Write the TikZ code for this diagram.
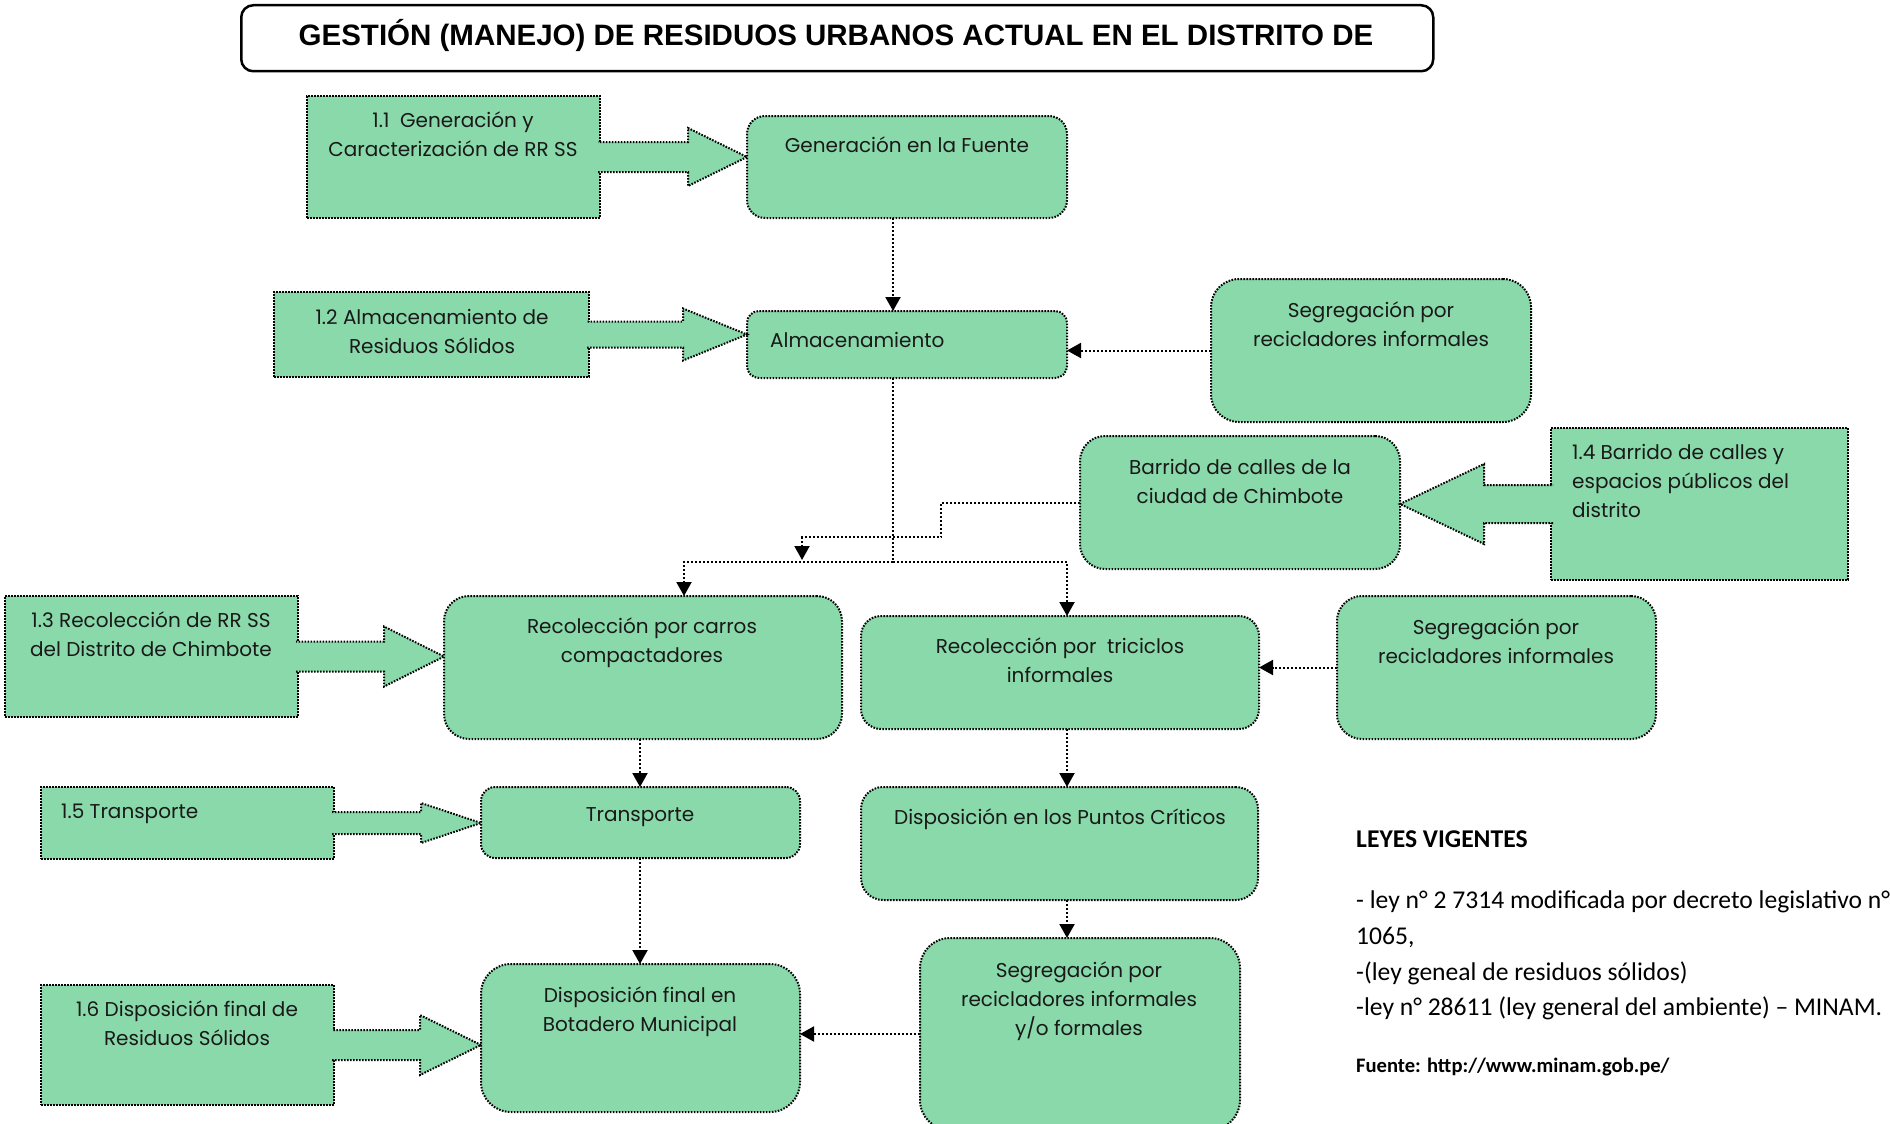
\documentclass[tikz,border=0pt]{standalone}
\usepackage{fontspec}
\setmainfont{Poppins}
\newfontfamily\titlefont{Liberation Sans}
\newfontfamily\legfont{Carlito}
\usetikzlibrary{arrows.meta,calc}
\definecolor{boxgreen}{RGB}{137,217,170}
\definecolor{txtc}{RGB}{25,25,25}
\tikzset{
 sbox/.style={draw=black, fill=boxgreen, line width=2pt, dash pattern=on 1.6pt off 1.4pt, inner sep=0pt, outer sep=0pt, anchor=north west},
 rbox/.style={sbox, rounded corners=#1},
 rbox/.default=20pt,
 txt/.style={font=\fontsize{20}{29}\selectfont, text=txtc, align=center, inner sep=0pt},
 leg/.style={font=\legfont\fontsize{25.6}{29}\selectfont, text=black, inner sep=0pt, anchor=base west},
 link/.style={draw=black, line width=2pt, dash pattern=on 2pt off 2pt},
 arr/.style={link, -{Triangle[length=14pt,width=15pt]}},
 barrow/.style={fill=boxgreen, draw=black, line width=2pt, dash pattern=on 1.6pt off 1.4pt},
}
\newcommand\bx[6]{\node[#1, minimum width={#4-#2}, minimum height={#5-#3}] (#6) at (#2,#3) {};}
% #1 source anchor, #2 target anchor, #3 shaft half, #4 head half, #5 signed head length, #6 overlap shift
\newcommand\blockarr[6]{%
 \coordinate (ba-s) at ($(#1)+(#6,0)$);
 \coordinate (ba-t) at (#1 -| #2);
 \filldraw[barrow] ($(ba-s)+(0,#3)$) -- ($(ba-t)+({-(#5)},#3)$) -- ($(ba-t)+({-(#5)},#4)$) -- (ba-t) -- ($(ba-t)+({-(#5)},{-(#4)})$) -- ($(ba-t)+({-(#5)},{-(#3)})$) -- ($(ba-s)+(0,{-(#3)})$);
}
\begin{document}
\begin{tikzpicture}[x=1pt,y=-1pt]
\useasboundingbox (0,0) rectangle (1890,1124);
% title
\node[draw=black, line width=2.5pt, rounded corners=12pt, fill=white, minimum width=1192, minimum height=66, anchor=north west, inner sep=0pt] (title) at (240,4) {};
\node[font=\titlefont\bfseries\fontsize{29.5}{31}\selectfont, inner sep=0pt] (ttl) at (836,35) {GESTIÓN (MANEJO) DE RESIDUOS URBANOS ACTUAL EN EL DISTRITO DE};
% boxes
\bx{sbox}{307}{96}{600}{218}{b11}
\bx{rbox=18pt}{747}{116}{1067}{218}{gen}
\bx{sbox}{274}{292}{589}{377}{b12}
\bx{rbox=12pt}{747}{311}{1067}{378}{alm}
\bx{rbox=28pt}{1211}{279}{1531}{422}{seg1}
\bx{rbox=25pt}{1080}{436}{1400}{569}{barr}
\bx{sbox}{1551}{428}{1848}{580}{b14}
\bx{sbox}{5}{596}{298}{717}{b13}
\bx{rbox=25pt}{444}{596}{842}{739}{carros}
\bx{rbox=20pt}{861}{616}{1259}{729}{tric}
\bx{rbox=25pt}{1337}{596}{1656}{739}{seg2}
\bx{sbox}{41}{787}{334}{859}{b15}
\bx{rbox=14pt}{481}{787}{800}{858}{transp}
\bx{rbox=22pt}{861}{787}{1258}{900}{punt}
\bx{rbox=30pt}{920}{938}{1240}{1130}{seg3}
\bx{rbox=30pt}{481}{964}{800}{1112}{dfin}
\bx{sbox}{41}{985}{334}{1105}{b16}
% block arrows
\blockarr{b11.east}{gen.west}{15}{29}{59}{-2}
\blockarr{b12.east}{alm.west}{13}{26}{64}{-2}
\blockarr{b13.east}{carros.west}{15}{30}{60}{-2}
\blockarr{b14.west}{barr.east}{19}{40}{-84}{2}
\blockarr{b15.east}{transp.west}{11}{20}{60}{-2}
\blockarr{b16.east}{dfin.west}{15}{30}{61}{-2}
% connectors
\coordinate (cx) at (893,0);
\coordinate (jn) at (893,562);
\coordinate (cl) at (684,0);
\coordinate (cr) at (1067,0);
\coordinate (cm) at (640,0);
\coordinate (bk) at (941,537);
\coordinate (bj) at (802,560);
\draw[arr] (gen.south -| cx) -- (alm.north -| cx);
\draw[link] (alm.south -| cx) -- (jn);
\draw[arr] (jn) -| (carros.north -| cl);
\draw[arr] (jn) -| (tric.north -| cr);
\draw[arr] (barr.west) -| (bk) -| (bj);
\draw[arr] (seg1.west) -- (seg1.west -| alm.east);
\draw[arr] (seg2.west) -- (seg2.west -| tric.east);
\draw[arr] (carros.south -| cm) -- (transp.north -| cm);
\draw[arr] (transp.south -| cm) -- (dfin.north -| cm);
\draw[arr] (tric.south -| cr) -- (punt.north -| cr);
\draw[arr] (punt.south -| cr) -- (seg3.north -| cr);
\draw[arr] (seg3.west) -- (seg3.west -| dfin.east);
% texts
\node[txt] (t11) at (453,134) {1.1\ \ Generación y\\Caracterización de RR SS};
\node[txt] (tgen) at (907,145) {Generación en la Fuente};
\node[txt] (t12) at (432,331) {1.2 Almacenamiento de\\Residuos Sólidos};
\node[txt, anchor=west] (talm) at (770,340) {Almacenamiento};
\node[txt] (tseg1) at (1371,324) {Segregación por\\recicladores informales};
\node[txt] (tbarr) at (1240,481) {Barrido de calles de la\\ciudad de Chimbote};
\node[txt, align=left, anchor=west] (t14) at (1572,481) {1.4 Barrido de calles y\\espacios públicos del\\distrito};
\node[txt] (t13) at (151,634) {1.3 Recolección de RR SS\\del Distrito de Chimbote};
\node[txt] (tcarr) at (642,643) {Recolección por carros\\compactadores};
\node[txt] (ttric) at (1060,660) {Recolección por\ \ triciclos\\informales};
\node[txt] (tseg2) at (1496,641) {Segregación por\\recicladores informales};
\node[txt, anchor=west] (t15) at (61,814) {1.5 Transporte};
\node[txt] (ttr) at (640,817) {Transporte};
\node[txt] (tpun) at (1060,819) {Disposición en los Puntos Críticos};
\node[txt] (tdfin) at (640,1012) {Disposición final en\\Botadero Municipal};
\node[txt] (t16) at (187,1023) {1.6 Disposición final de\\Residuos Sólidos};
\node[txt] (tseg3) at (1079,1001) {Segregación por\\recicladores informales\\y/o formales};
% legend
\node[leg, font=\legfont\bfseries\fontsize{25.6}{29}\selectfont] (ley) at (1356,847) {LEYES VIGENTES};
\node[leg] (l1) at (1356,908) {- ley n° 2 7314 modificada por decreto legislativo n°};
\node[leg] (l2) at (1356,944) {1065,};
\node[leg] (l3) at (1356,980) {-(ley geneal de residuos sólidos)};
\node[leg] (l4) at (1356,1015) {-ley n° 28611 (ley general del ambiente) – MINAM.};
\node[leg, font=\legfont\bfseries\fontsize{20.6}{22}\selectfont] (src) at (1356,1072) {Fuente: http://www.minam.gob.pe/};
\end{tikzpicture}
\end{document}
